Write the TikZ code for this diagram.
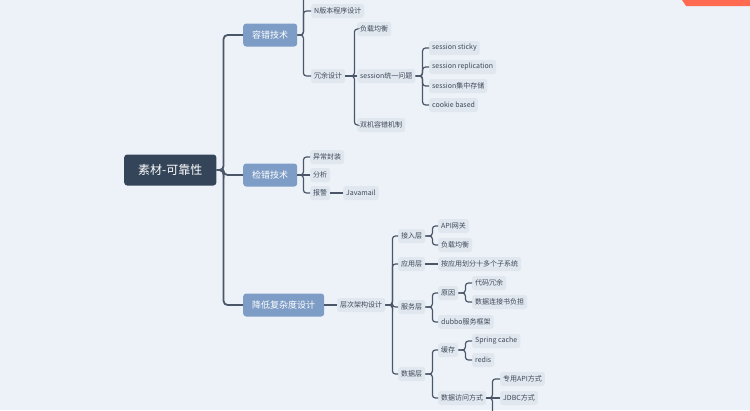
\documentclass[tikz,border=0pt]{standalone}
\usepackage{fontspec}
\setmainfont{Noto Sans CJK SC}
\usepackage{tikz}
\usetikzlibrary{positioning,calc,backgrounds}
\definecolor{bgc}{RGB}{236,242,248}
\definecolor{rootc}{RGB}{52,69,90}
\definecolor{topc}{RGB}{126,157,198}
\definecolor{subc}{RGB}{224,231,239}
\definecolor{txtc}{RGB}{62,72,88}
\definecolor{edc}{RGB}{75,86,104}
\definecolor{redc}{RGB}{255,106,80}

\begin{document}
\begin{tikzpicture}[x=1pt,y=-1pt]
\tikzstyle{rt}=[fill=rootc,text=white,rounded corners=3pt,anchor=west,minimum height=31pt,inner xsep=14pt,font=\fontsize{12}{12}\selectfont]
\tikzstyle{tp}=[fill=topc,text=white,rounded corners=3pt,anchor=west,minimum height=23pt,inner xsep=9pt,font=\fontsize{9}{9}\selectfont]
\tikzstyle{sb}=[fill=subc,text=txtc,rounded corners=2.5pt,anchor=west,minimum height=14pt,inner xsep=3pt,inner ysep=1pt,font=\fontsize{7}{7}\selectfont]
\tikzstyle{ed}=[draw=edc,line width=1.2pt,rounded corners=3pt]
\tikzstyle{trunk}=[draw=edc,line width=1.8pt,rounded corners=4pt]
\useasboundingbox (0,0) rectangle (750,410);
\fill [bgc] (0,0) rectangle (750,410);
\fill [redc] (682,0) -- (750,0) -- (750,6) -- (686,6) -- cycle;
% root and main topics
\node [rt] (root) at (124,170) {素材-可靠性};
\node [tp] (k1) at (243,35) {容错技术};
\node [tp] (k2) at (243,175) {检错技术};
\node [tp] (k3) at (243,305) {降低复杂度设计};
% 容错技术
\node [sb] (a1) at (311,11) {N版本程序设计};
\node [sb] (a2) at (311,76) {冗余设计};
\node [sb] (b1) at (357,29) {负载均衡};
\node [sb] (b2) at (357,76) {session统一问题};
\node [sb] (b3) at (357,125) {双机容错机制};
\node [sb] (c1) at (429,48) {session sticky};
\node [sb] (c2) at (429,67) {session replication};
\node [sb] (c3) at (429,86) {session集中存储};
\node [sb] (c4) at (429,105) {cookie based};
% 检错技术
\node [sb] (d1) at (310,157) {异常封装};
\node [sb] (d2) at (310,175) {分析};
\node [sb] (d3) at (310,193) {报警};
\node [sb] (d4) at (343,193) {Javamail};
% 降低复杂度设计
\node [sb] (e1) at (337,305) {层次架构设计};
\node [sb] (f1) at (398,236) {接入层};
\node [sb] (f2) at (398,264) {应用层};
\node [sb] (f3) at (398,307) {服务层};
\node [sb] (f4) at (398,374) {数据层};
\node [sb] (g1) at (438,226) {API网关};
\node [sb] (g2) at (438,245) {负载均衡};
\node [sb] (g3) at (438,264) {按应用划分十多个子系统};
\node [sb] (g4) at (438,293) {原因};
\node [sb] (g5) at (438,322) {dubbo服务框架};
\node [sb] (g6) at (438,350) {缓存};
\node [sb] (g7) at (438,398) {数据访问方式};
\node [sb] (h1) at (472,283) {代码冗余};
\node [sb] (h2) at (472,302) {数据连接书负担};
\node [sb] (h3) at (472,341) {Spring cache};
\node [sb] (h4) at (472,360) {redis};
\node [sb] (h5) at (500,379) {专用API方式};
\node [sb] (h6) at (500,398) {JDBC方式};
\coordinate (atop) at (303,-6);
\coordinate (hbot) at (493,416);
% connectors
\draw [trunk] (root.east) -- ++(7,0) |- (k1.west);
\draw [trunk] (root.east) -- ++(7,0) |- (k2.west);
\draw [trunk] (root.east) -- ++(7,0) |- (k3.west);
\draw [ed] (k1.east) -- ++(6,0) |- (atop);
\draw [ed] (k1.east) -- ++(6,0) |- (a1.west);
\draw [ed] (k1.east) -- ++(6,0) |- (a2.west);
\draw [ed] (a2.east) -- ++(9,0) |- (b1.west);
\draw [ed] (a2.east) -- (b2.west);
\draw [ed] (a2.east) -- ++(9,0) |- (b3.west);
\draw [ed] (b2.east) -- ++(7,0) |- (c1.west);
\draw [ed] (b2.east) -- ++(7,0) |- (c2.west);
\draw [ed] (b2.east) -- ++(7,0) |- (c3.west);
\draw [ed] (b2.east) -- ++(7,0) |- (c4.west);
\draw [ed] (k2.east) -- ++(6,0) |- (d1.west);
\draw [ed] (k2.east) -- (d2.west);
\draw [ed] (k2.east) -- ++(6,0) |- (d3.west);
\draw [ed] (d3.east) -- (d4.west);
\draw [ed] (k3.east) -- (e1.west);
\draw [ed] (e1.east) -- ++(7,0) |- (f1.west);
\draw [ed] (e1.east) -- ++(7,0) |- (f2.west);
\draw [ed] (e1.east) -- ++(7,0) |- (f3.west);
\draw [ed] (e1.east) -- ++(7,0) |- (f4.west);
\draw [ed] (f1.east) -- ++(7,0) |- (g1.west);
\draw [ed] (f1.east) -- ++(7,0) |- (g2.west);
\draw [ed] (f2.east) -- (g3.west);
\draw [ed] (f3.east) -- ++(7,0) |- (g4.west);
\draw [ed] (f3.east) -- ++(7,0) |- (g5.west);
\draw [ed] (f4.east) -- ++(7,0) |- (g6.west);
\draw [ed] (f4.east) -- ++(7,0) |- (g7.west);
\draw [ed] (g4.east) -- ++(7,0) |- (h1.west);
\draw [ed] (g4.east) -- ++(7,0) |- (h2.west);
\draw [ed] (g6.east) -- ++(7,0) |- (h3.west);
\draw [ed] (g6.east) -- ++(7,0) |- (h4.west);
\draw [ed] (g7.east) -- ++(6,0) |- (h5.west);
\draw [ed] (g7.east) -- (h6.west);
\draw [ed] (g7.east) -- ++(6,0) |- (hbot);
\end{tikzpicture}
\end{document}
